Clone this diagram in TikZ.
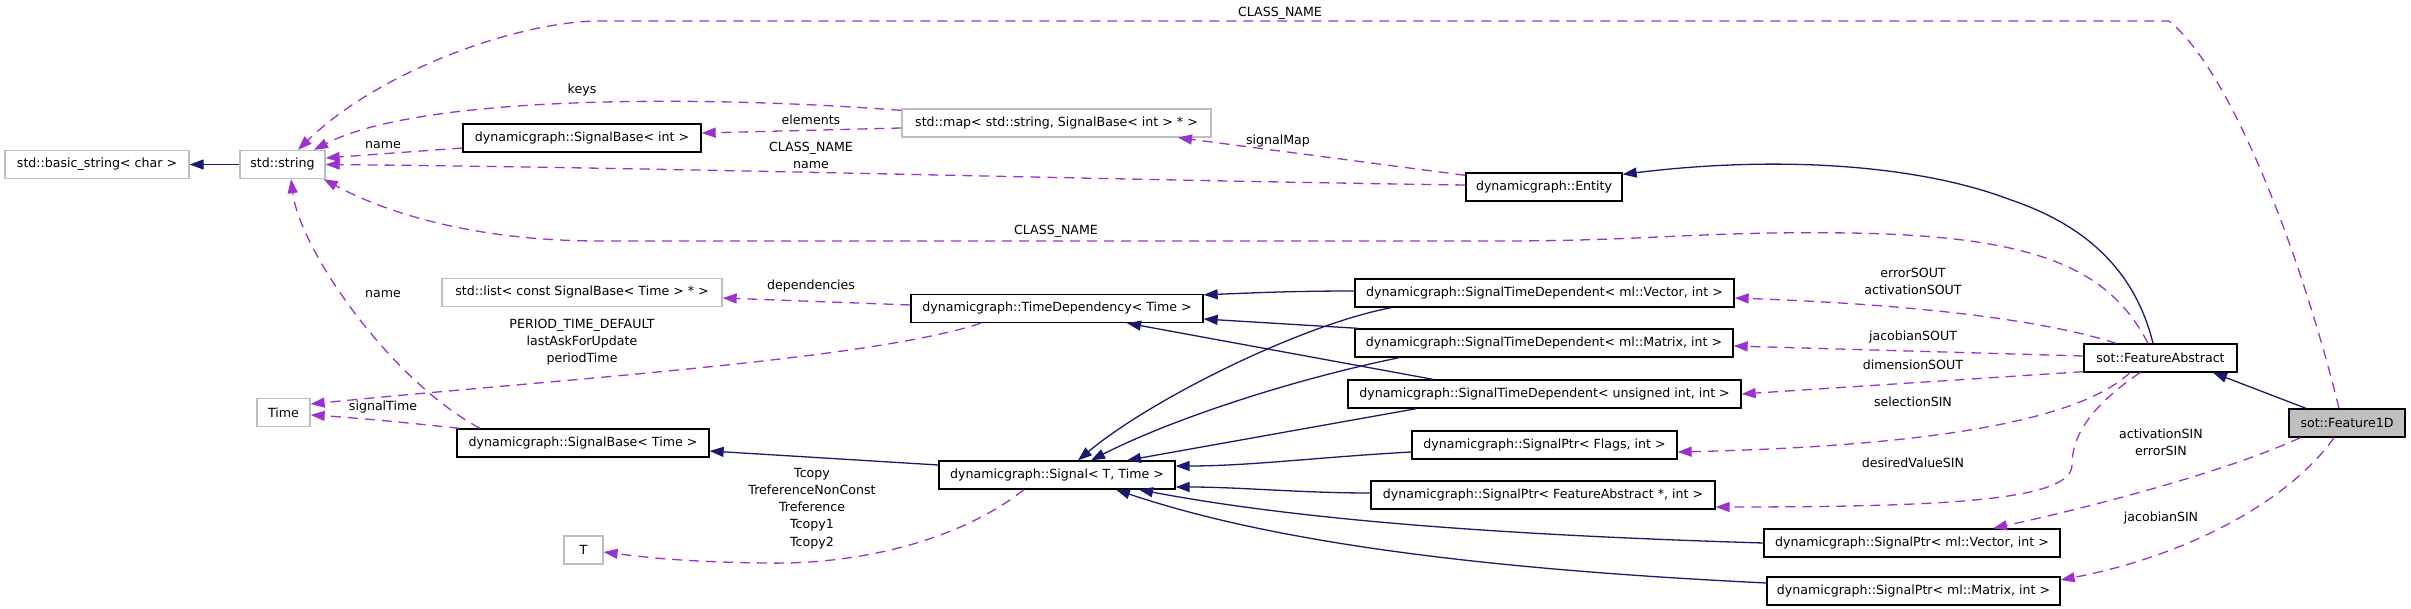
\documentclass[tikz,border=0pt]{standalone}
\usepackage{fontspec}
\setmainfont{DejaVu Sans}
\usetikzlibrary{arrows.meta}
\definecolor{inhcol}{HTML}{191970}
\definecolor{usecol}{HTML}{9A32CD}
\definecolor{graybd}{HTML}{BFBFBF}
\tikzset{
  cls/.style={draw=black, line width=0.65pt, fill=white, inner sep=0pt,
    minimum height=14pt, font=\fontsize{6.3}{8.6}\selectfont},
  ext/.style={cls, draw=graybd},
  cur/.style={cls, fill=graybd},
  inh/.style={draw=inhcol, line width=0.65pt, -{Triangle[length=7pt,width=5pt]}},
  use/.style={draw=usecol, line width=0.65pt, dash pattern=on 5pt off 3.5pt,
    -{Triangle[length=7pt,width=5pt]}},
  lbl/.style={inner sep=0pt, align=center, font=\fontsize{6.3}{8.6}\selectfont}
}
\begin{document}
\begin{tikzpicture}[x=0.5pt,y=-0.5pt]
\useasboundingbox (0,0) rectangle (2411,609);

% classes
\node[ext, minimum width=92pt]    (bstr) at (97,164.5)    {std::basic\_string< char >};
\node[ext, minimum width=42.5pt]  (str)  at (282.5,164.5) {std::string};
\node[cls, minimum width=119pt]   (sbint) at (582,138)    {dynamicgraph::SignalBase< int >};
\node[ext, minimum width=154.5pt] (map)  at (1056.5,123)  {std::map< std::string, SignalBase< int > * >};
\node[cls, minimum width=78pt]    (ent)  at (1544,187)    {dynamicgraph::Entity};
\node[ext, minimum width=140pt]   (list) at (582,292.5)   {std::list< const SignalBase< Time > * >};
\node[cls, minimum width=146pt]   (td)   at (1057,308.5)  {dynamicgraph::TimeDependency< Time >};
\node[cls, minimum width=189.5pt] (stdv) at (1544.5,293)  {dynamicgraph::SignalTimeDependent< ml::Vector, int >};
\node[cls, minimum width=189pt]   (stdm) at (1544,343)    {dynamicgraph::SignalTimeDependent< ml::Matrix, int >};
\node[cls, minimum width=196.5pt] (stdu) at (1544.5,394)  {dynamicgraph::SignalTimeDependent< unsigned int, int >};
\node[cls, minimum width=76.5pt]  (fa)   at (2160.5,358)  {sot::FeatureAbstract};
\node[cur, minimum width=58pt]    (f1d)  at (2347,423)    {sot::Feature1D};
\node[ext, minimum width=26.5pt]  (time) at (283.5,412.5) {Time};
\node[cls, minimum width=126pt]   (sbt)  at (583,443)     {dynamicgraph::SignalBase< Time >};
\node[cls, minimum width=118pt]   (sig)  at (1057,475)    {dynamicgraph::Signal< T, Time >};
\node[cls, minimum width=132.5pt] (spf)  at (1544.5,445)  {dynamicgraph::SignalPtr< Flags, int >};
\node[cls, minimum width=172pt]   (spfa) at (1543,495)    {dynamicgraph::SignalPtr< FeatureAbstract *, int >};
\node[cls, minimum width=148pt]   (spv)  at (1912,543)    {dynamicgraph::SignalPtr< ml::Vector, int >};
\node[cls, minimum width=146.5pt] (spm)  at (1913.5,591)  {dynamicgraph::SignalPtr< ml::Matrix, int >};
\node[ext, minimum width=19.5pt]  (T)    at (583.5,550)   {T};

% inheritance
\draw[inh] (str.west) -- (bstr.east);
\draw[inh] ([xshift=-3.75pt]fa.north) .. controls (2135,270) and (2085,225) .. (2011,200)
  .. controls (1920,165) and (1780,155) .. ([yshift=-1pt]ent.north east);
\draw[inh] ([xshift=-20.5pt]f1d.north) -- ([xshift=26.25pt]fa.south);
\draw[inh] ([yshift=1pt]stdv.west) .. controls (1290,291) and (1250,293) .. ([yshift=-0.5pt]td.north east);
\draw[inh] ([xshift=2pt]stdm.north west) -- ([yshift=-5.25pt]td.east);
\draw[inh] ([xshift=-55.75pt]stdu.north) -- ([xshift=35pt]td.south);
\draw[inh] ([xshift=18.5pt]stdv.south west) .. controls (1300,325) and (1150,400) .. ([xshift=10.5pt]sig.north);
\draw[inh] ([xshift=22.5pt]stdm.south west) .. controls (1290,380) and (1170,420) .. ([xshift=17pt]sig.north);
\draw[inh] ([xshift=34.5pt]stdu.south west) -- ([xshift=35pt]sig.north);
\draw[inh] ([yshift=-3.5pt]spf.west) .. controls (1320,457) and (1250,466) .. ([yshift=4.5pt]sig.east);
\draw[inh] ([yshift=1pt]spfa.west) .. controls (1300,493) and (1240,487) .. ([yshift=-6pt]sig.east);
\draw[inh] (spv.west) .. controls (1500,535) and (1300,520) .. ([xshift=41pt]sig.south);
\draw[inh] ([yshift=4pt]spm.west) .. controls (1500,570) and (1280,545) .. ([xshift=29.5pt]sig.south);
\draw[inh] ([yshift=5pt]sig.west) -- ([yshift=-4pt]sbt.east);

% usage
\draw[use] ([xshift=-4pt]f1d.north) .. controls (2300,250) and (2230,70) .. (2169,21)
  -- (600,21) .. controls (520,21) and (380,70) .. ([xshift=7.75pt]str.north);
\draw[use] ([yshift=-1pt]map.north west) .. controls (700,95) and (420,95) .. ([xshift=15.75pt]str.north);
\draw[use] ([yshift=-2.5pt]map.west) -- ([yshift=2.5pt]sbint.east);
\draw[use] ([yshift=-5pt]sbint.west) -- ([yshift=3.25pt]str.east);
\draw[use] ([yshift=1pt]ent.west) .. controls (1100,180) and (700,168) .. (str.east);
\draw[use] ([yshift=-1.5pt]ent.north west) -- ([xshift=60.75pt]map.south);
\draw[use] ([xshift=-6.25pt]fa.north) .. controls (2110,270) and (2040,236) .. (1850,233)
  .. controls (1700,231) and (1650,241) .. (1500,241) -- (600,241)
  .. controls (480,241) and (390,215) .. ([xshift=-1pt]str.south east);
\draw[use] ([xshift=-51.5pt]sbt.north) .. controls (390,380) and (300,250) .. ([xshift=4.25pt]str.south);
\draw[use] ([yshift=1.75pt]td.west) -- ([yshift=-2.75pt]list.east);
\draw[use] ([xshift=-38pt]td.south) .. controls (870,360) and (550,380) .. ([yshift=4.25pt]time.east);
\draw[use] ([xshift=1.5pt]sbt.north west) .. controls (420,424) and (360,418) .. ([yshift=-1.25pt]time.east);
\draw[use] ([xshift=-16.5pt]sig.south) .. controls (960,540) and (860,565) .. (765,563)
  .. controls (690,562) and (650,558) .. ([yshift=-1pt]T.east);
\draw[use] ([xshift=16.5pt]fa.north west) .. controls (2050,322) and (1930,305) .. ([yshift=-2.5pt]stdv.east);
\draw[use] ([yshift=1pt]fa.west) -- ([yshift=-1.5pt]stdm.east);
\draw[use] ([yshift=0.5pt]fa.south west) -- (stdu.east);
\draw[use] ([xshift=-15.25pt]fa.south) .. controls (2090,410) and (1980,445) .. ([yshift=-3.5pt]spf.east);
\draw[use] ([xshift=-10.25pt]fa.south) .. controls (2085,410) and (2072,440) .. (2072,465)
  .. controls (2072,500) and (1950,507) .. ([yshift=-6pt]spfa.east);
\draw[use] ([xshift=6pt]f1d.south west) .. controls (2230,470) and (2100,505) .. ([xshift=40.5pt]spv.north);
\draw[use] ([xshift=-6.5pt]f1d.south) .. controls (2290,500) and (2190,555) .. ([yshift=5.5pt]spm.east);

% labels
\node[lbl] (l1)  at (1280,13)    {CLASS\_NAME};
\node[lbl] (l2)  at (582,90)     {keys};
\node[lbl] (l3)  at (811,120)    {elements};
\node[lbl] (l4)  at (383,145)    {name};
\node[lbl] (l5)  at (811,155.5)  {CLASS\_NAME\\name};
\node[lbl] (l6)  at (1278,141)   {signalMap};
\node[lbl] (l7)  at (1056,231)   {CLASS\_NAME};
\node[lbl] (l8)  at (383,294)    {name};
\node[lbl] (l9)  at (811,286)    {dependencies};
\node[lbl] (l10) at (582,342)    {PERIOD\_TIME\_DEFAULT\\lastAskForUpdate\\periodTime};
\node[lbl] (l11) at (383,407)    {signalTime};
\node[lbl] (l12) at (812,508.5)  {Tcopy\\TreferenceNonConst\\Treference\\Tcopy1\\Tcopy2};
\node[lbl] (l13) at (1913,281.5) {errorSOUT\\activationSOUT};
\node[lbl] (l14) at (1913,337)   {jacobianSOUT};
\node[lbl] (l15) at (1913,365)   {dimensionSOUT};
\node[lbl] (l16) at (1913,402)   {selectionSIN};
\node[lbl] (l17) at (1913,463)   {desiredValueSIN};
\node[lbl] (l18) at (2161,442)   {activationSIN\\errorSIN};
\node[lbl] (l19) at (2161,518)   {jacobianSIN};
\end{tikzpicture}
\end{document}
